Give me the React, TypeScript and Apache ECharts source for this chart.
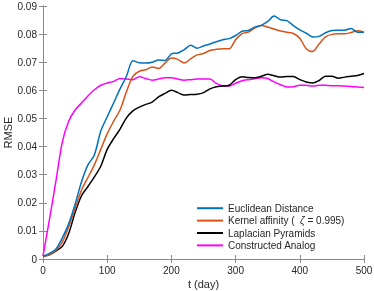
import React, { useEffect, useRef } from "react";
import * as echarts from "echarts";

const days = [0,10,20,30,40,50,60,70,80,90,100,110,120,130,140,150,160,170,180,190,200,210,220,230,240,250,260,270,280,290,300,310,320,330,340,350,360,370,380,390,400,410,420,430,440,450,460,470,480,490,500];

const euclidean = [0.001,0.002,0.0035,0.0075,0.0125,0.0195,0.0275,0.0335,0.037,0.0455,0.0506,0.0555,0.0605,0.065,0.0705,0.0698,0.0697,0.07,0.0708,0.0706,0.073,0.0733,0.0745,0.076,0.075,0.0758,0.0765,0.0773,0.078,0.0784,0.0795,0.081,0.0813,0.0825,0.0831,0.0845,0.0864,0.0851,0.0848,0.083,0.0815,0.0803,0.079,0.0792,0.0805,0.0813,0.0814,0.0814,0.082,0.0807,0.0807];

const kernel = [0.001,0.0015,0.003,0.006,0.0115,0.018,0.0245,0.029,0.0335,0.039,0.0445,0.049,0.053,0.0595,0.065,0.0668,0.0673,0.0683,0.0678,0.0697,0.0715,0.071,0.0697,0.0712,0.0726,0.0731,0.0742,0.0746,0.0748,0.0748,0.078,0.0802,0.0807,0.0822,0.0831,0.0825,0.0818,0.0811,0.0807,0.0802,0.0785,0.0748,0.0738,0.0765,0.079,0.0799,0.0801,0.0801,0.0806,0.0812,0.0807];

const laplacian = [0.001,0.0015,0.0028,0.0045,0.0091,0.0165,0.0225,0.0258,0.0292,0.033,0.039,0.0428,0.0462,0.0502,0.0527,0.054,0.055,0.0558,0.0577,0.0589,0.06,0.0592,0.0583,0.0585,0.0586,0.0592,0.0605,0.0613,0.0615,0.0618,0.0638,0.0648,0.0646,0.0645,0.065,0.0657,0.0652,0.0647,0.0649,0.0649,0.0638,0.063,0.0626,0.0635,0.065,0.065,0.0643,0.0647,0.065,0.0653,0.066];

const analog = [0.001,0.014,0.0275,0.0415,0.049,0.053,0.0555,0.058,0.0602,0.0618,0.0626,0.0632,0.0642,0.064,0.0638,0.0648,0.0642,0.0636,0.064,0.0645,0.0645,0.064,0.0636,0.0638,0.064,0.064,0.064,0.0625,0.0616,0.0615,0.0625,0.0634,0.0638,0.0641,0.0645,0.0642,0.063,0.062,0.0612,0.0613,0.0618,0.0618,0.0615,0.0618,0.0618,0.0616,0.0616,0.0615,0.0614,0.0612,0.061];

const seriesNames = ["Euclidean Distance", "Kernel affinity (  ζ = 0.995)", "Laplacian Pyramids", "Constructed Analog"];
const seriesColors = ["#0072BD", "#D95319", "#000000", "#FF00FF"];
const seriesData = [euclidean, kernel, laplacian, analog];

const FONT = "'Liberation Sans', Arial, Helvetica, sans-serif";
const AXIS_COLOR = "#8a8a8a";
const LABEL_COLOR = "#262626";

export default function App() {
  const ref = useRef<HTMLDivElement>(null);
  useEffect(() => {
    if (!ref.current) return;
    const chart = echarts.init(ref.current, null, { renderer: "svg" });
    const axisCommon = {
      type: "value" as const,
      axisLine: { show: true, lineStyle: { color: AXIS_COLOR, width: 1 } },
      axisTick: { show: true, inside: true, length: 4, lineStyle: { color: AXIS_COLOR } },
      splitLine: { show: false },
    };
    chart.setOption({
      animation: false,
      textStyle: { fontFamily: FONT },
      grid: { left: 43, right: 10, top: 6, bottom: 32, containLabel: false, outerBoundsMode: "none" },
      legend: {
        left: 197,
        top: 202,
        padding: 0,
        orient: "vertical",
        itemWidth: 26,
        itemHeight: 2,
        itemGap: 0,
        icon: "rect",
        data: seriesNames,
        textStyle: {
          fontFamily: FONT,
          fontSize: 10,
          color: LABEL_COLOR,
          lineHeight: 12.4,
          rich: { i: { fontStyle: "italic", fontSize: 10, fontFamily: FONT, color: LABEL_COLOR } },
        },
        formatter: (name: string) => name.replace("ζ", "{i|ζ}"),
      },
      xAxis: [
        {
          ...axisCommon,
          min: 0,
          max: 500,
          interval: 100,
          name: "t (day)",
          nameLocation: "middle",
          nameGap: 19,
          nameMoveOverlap: false,
          nameTextStyle: { fontSize: 11, color: LABEL_COLOR, fontFamily: FONT },
          axisLabel: { fontSize: 10, color: LABEL_COLOR, margin: 6, fontFamily: FONT },
        },
        {
          ...axisCommon,
          position: "top",
          min: 0,
          max: 500,
          interval: 100,
          axisLabel: { show: false },
        },
      ],
      yAxis: [
        {
          ...axisCommon,
          min: 0,
          max: 0.09,
          interval: 0.01,
          name: "RMSE",
          nameLocation: "middle",
          nameGap: 30,
          nameMoveOverlap: false,
          nameTextStyle: { fontSize: 11, color: LABEL_COLOR, fontFamily: FONT },
          axisLabel: {
            fontSize: 10,
            color: LABEL_COLOR,
            margin: 6,
            fontFamily: FONT,
            formatter: (v: number) => (v === 0 ? "0" : v.toFixed(2)),
          },
        },
        {
          ...axisCommon,
          position: "right",
          min: 0,
          max: 0.09,
          interval: 0.01,
          axisLabel: { show: false },
        },
      ],
      series: seriesNames.map((name, i) => ({
        name,
        type: "line",
        xAxisIndex: 0,
        yAxisIndex: 0,
        data: days.map((d, j) => [d, seriesData[i][j]]),
        smooth: 0.3,
        showSymbol: false,
        symbol: "none",
        lineStyle: { color: seriesColors[i], width: 1.5 },
        itemStyle: { color: seriesColors[i] },
        z: 10 - i,
      })),
    });
    return () => chart.dispose();
  }, []);
  return (
    <div
      ref={ref}
      style={{ position: "fixed", left: 0, top: 0, width: 374, height: 291 }}
    />
  );
}
